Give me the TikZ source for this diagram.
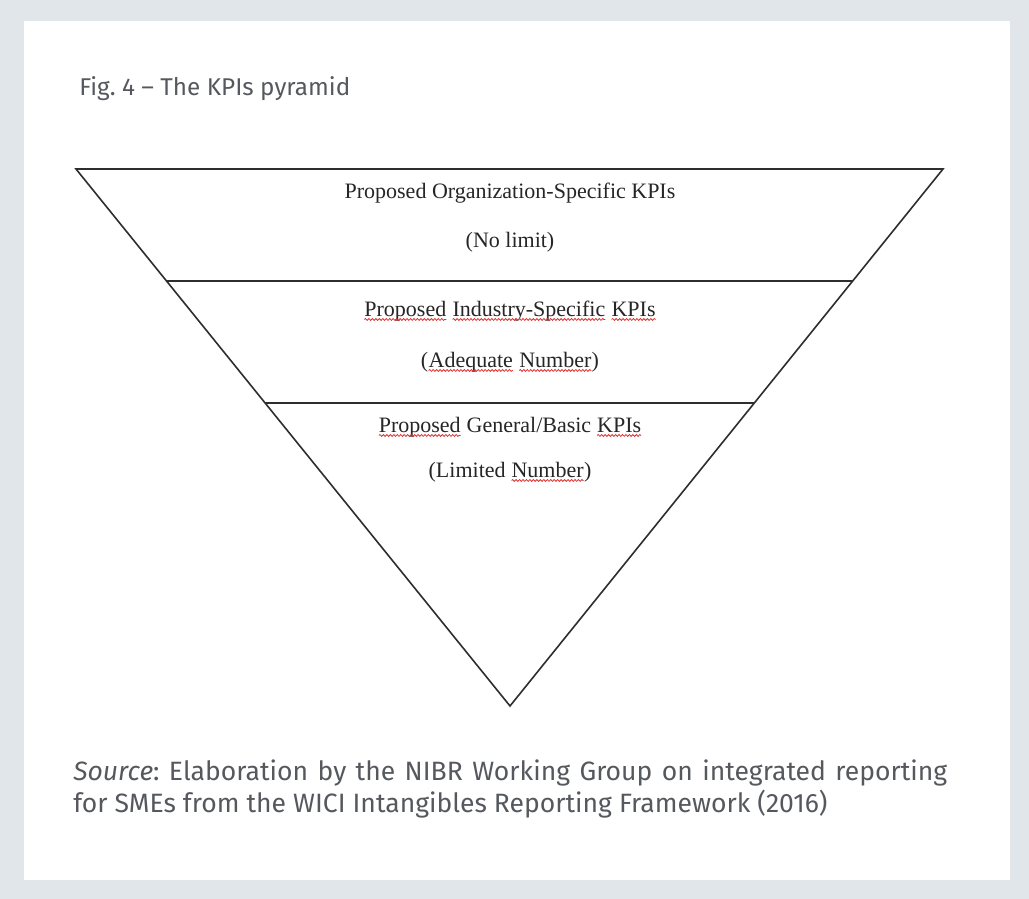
\documentclass[tikz,border=0pt]{standalone}
\usepackage{fontspec}
\setmainfont{Liberation Serif}
\newfontfamily\capfont[Ligatures=TeX]{Fira Sans}
\usetikzlibrary{decorations.pathmorphing,calc}
\definecolor{framegray}{HTML}{E1E6EA}
\definecolor{textgray}{HTML}{55595E}
\definecolor{squigred}{HTML}{E03030}
\definecolor{linegray}{HTML}{2E2E2E}
\newcommand\sqw[1]{\tikz[baseline=(sqwn.base),x=1pt,y=1pt]{\node[inner sep=0pt,outer sep=0pt](sqwn){#1};\draw[squigred,line width=0.6pt,decorate,decoration={snake,amplitude=0.7pt,segment length=2.6pt}]([yshift=-2.6pt]sqwn.base west)--([yshift=-2.6pt]sqwn.base east);}}
\tikzset{
  pyrline/.style={draw=linegray,line width=1.2pt,line join=miter},
  pyrtext/.style={anchor=base,inner sep=0pt,font=\fontsize{16.5}{19}\selectfont,text=black!85},
  captext/.style={anchor=base west,inner sep=0pt,font=\capfont\fontsize{19.9}{24}\selectfont,text=textgray}
}
\begin{document}
\frenchspacing
\begin{tikzpicture}[x=0.75pt,y=-0.75pt]
\fill[framegray] (0,0) rectangle (1029,899);
\fill[white] (24,21) rectangle (1010,880);
\useasboundingbox (0,0) rectangle (1029,899);
\node[captext,font=\capfont\fontsize{18.2}{20}\selectfont] (title) at (79,96) {Fig. 4 – The KPIs pyramid};
\coordinate (tl) at (76,169);
\coordinate (tr) at (943,169);
\coordinate (ap) at (510,706);
\draw[pyrline] (tl) -- (tr) -- (ap) -- cycle;
\coordinate (d1l) at ($(tl)!0.20857!(ap)$);
\coordinate (d1r) at ($(tr)!0.20857!(ap)$);
\coordinate (d2l) at ($(tl)!0.43575!(ap)$);
\coordinate (d2r) at ($(tr)!0.43575!(ap)$);
\draw[pyrline] (d1l) -- (d1r);
\draw[pyrline] (d2l) -- (d2r);
\node[pyrtext] (t1a) at (510,198) {Proposed Organization-Specific KPIs};
\node[pyrtext] (t1b) at (510,247) {(No limit)};
\node[pyrtext] (t2a) at (510,316) {\sqw{Proposed} \sqw{Industry-Specific} \sqw{KPIs}};
\node[pyrtext] (t2b) at (510,367) {(\sqw{Adequate} \sqw{Number})};
\node[pyrtext] (t3a) at (510,432) {\sqw{Proposed} General/Basic \sqw{KPIs}};
\node[pyrtext] (t3b) at (510,477) {(Limited \sqw{Number})};
\node[captext] (cap1) at (73,780) {\makebox[655.5pt][s]{\textit{Source}: Elaboration by the NIBR Working Group on integrated reporting}};
\node[captext] (cap2) at (73,812) {for SMEs from the WICI Intangibles Reporting Framework (2016)};
\end{tikzpicture}
\end{document}
